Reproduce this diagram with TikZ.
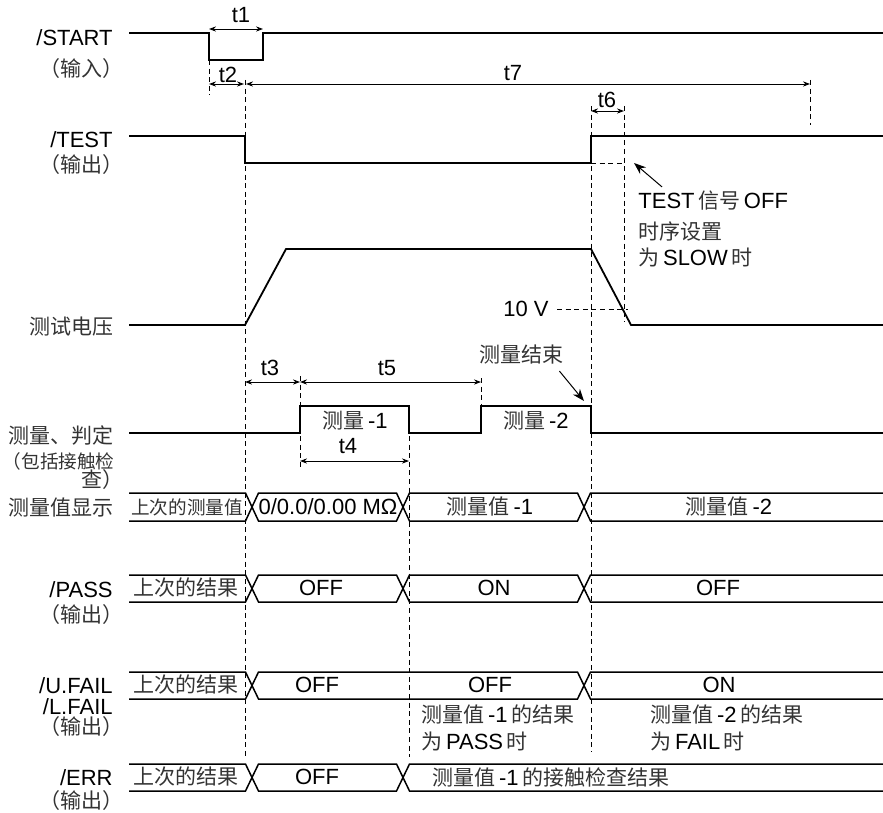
\documentclass[tikz,border=0pt]{standalone}
\usepackage{fontspec}
\setmainfont{Liberation Sans}
\newfontfamily\zhfont{Noto Sans CJK SC}
\newcommand{\zh}[1]{{\zhfont\fontsize{10.5}{14}\selectfont\color{black!80}#1}}
\newcommand{\zhs}[1]{{\zhfont\fontsize{9.3}{12}\selectfont\color{black!80}#1}}
\usetikzlibrary{arrows.meta}

\begin{document}
\begin{tikzpicture}[x=0.5pt,y=-0.5pt,>=Stealth,
 sig/.style={line width=0.9pt},
 bus/.style={line width=0.75pt},
 guide/.style={line width=0.45pt,dash pattern=on 2.5pt off 1.8pt},
 dim/.style={<->,line width=0.45pt,>={Stealth[length=3.5pt,width=2.6pt]}},
 callout/.style={->,line width=0.5pt,>={Stealth[length=6pt,width=4.5pt]}},
 every node/.style={inner sep=0pt,font=\fontsize{11}{14}\selectfont},
 lbl/.style={anchor=east}]
\useasboundingbox (0,0) rectangle (883,813);

% signal names
\node[lbl] (start) at (113,38) {/START};
\node[lbl] (startio) at (124,69) {\zh{（输入）}};
\node[lbl] (test) at (113,140) {/TEST};
\node[lbl] (testio) at (124,165) {\zh{（输出）}};
\node[lbl] (volt) at (114,327) {\zh{测试电压}};
\node[lbl] (meas) at (114,436) {\zh{测量、判定}};
\node[lbl] (meascont) at (115,461) {\zhs{（包括接触检}};
\node[lbl] (measend) at (124,480) {\zh{查）}};
\node[lbl] (disp) at (114,508) {\zh{测量值显示}};
\node[lbl] (pass) at (113,590) {/PASS};
\node[lbl] (passio) at (124,615) {\zh{（输出）}};
\node[lbl] (ufail) at (113,686) {/U.FAIL};
\node[lbl] (lfail) at (113,707) {/L.FAIL};
\node[lbl] (failio) at (124,727) {\zh{（输出）}};
\node[lbl] (err) at (113,778) {/ERR};
\node[lbl] (errio) at (124,801) {\zh{（输出）}};

% waveforms
\draw[sig] (129,33) -- (209,33) -- (209,60) -- (263,60) -- (263,33) -- (883,33);
\draw[sig] (129,136) -- (245,136) -- (245,163) -- (591,163) -- (591,136) -- (883,136);
\draw[sig] (129,325) -- (245,325) -- (286,249) -- (591,249) -- (631,325) -- (883,325);
\draw[sig] (129,433) -- (300,433) -- (300,406) -- (409,406) -- (409,433)
 -- (481,433) -- (481,406) -- (591,406) -- (591,433) -- (883,433);
\node (meas1) at (355,421) {\zh{测量}\,-1};
\node (meas2) at (536,421) {\zh{测量}\,-2};

% buses
\foreach \hi/\lo in {493/521,575/602}{
 \draw[bus] (129,\hi) -- (245.5,\hi) -- (258.5,\lo) -- (396.5,\lo) -- (409.5,\hi)
  -- (577.5,\hi) -- (590.5,\lo) -- (883,\lo);
 \draw[bus] (129,\lo) -- (245.5,\lo) -- (258.5,\hi) -- (396.5,\hi) -- (409.5,\lo)
  -- (577.5,\lo) -- (590.5,\hi) -- (883,\hi);
}
\draw[bus] (129,672) -- (245.5,672) -- (258.5,699) -- (577.5,699) -- (590.5,672) -- (883,672);
\draw[bus] (129,699) -- (245.5,699) -- (258.5,672) -- (577.5,672) -- (590.5,699) -- (883,699);
\draw[bus] (129,764) -- (245.5,764) -- (258.5,791) -- (396.5,791) -- (409.5,764) -- (883,764);
\draw[bus] (129,791) -- (245.5,791) -- (258.5,764) -- (396.5,764) -- (409.5,791) -- (883,791);

\node (dispold) at (187,507) {\zhs{上次的测量值}};
\node (dispzero) at (328,507) {0/0.0/0.00 MΩ};
\node (dispone) at (490,507) {\zh{测量值}\,-1};
\node (disptwo) at (729,507) {\zh{测量值}\,-2};
\node (passold) at (186,588) {\zh{上次的结果}};
\node (passa) at (321,588) {OFF};
\node (passb) at (494,588) {ON};
\node (passc) at (718,588) {OFF};
\node (failold) at (186,685) {\zh{上次的结果}};
\node (faila) at (317,685) {OFF};
\node (failb) at (490,685) {OFF};
\node (failc) at (719,685) {ON};
\node (errold) at (186,777) {\zh{上次的结果}};
\node (erra) at (317,777) {OFF};
\node[anchor=west] (errb) at (432,777) {\zh{测量值}\,-1\,\zh{的接触检查结果}};

\node[anchor=west] (passnote) at (421,714) {\zh{测量值}\,-1\,\zh{的结果}};
\node[anchor=west] (passnoteb) at (421,741) {\zh{为}\,PASS\,\zh{时}};
\node[anchor=west] (failnote) at (650,714) {\zh{测量值}\,-2\,\zh{的结果}};
\node[anchor=west] (failnoteb) at (650,741) {\zh{为}\,FAIL\,\zh{时}};

% timing guides
\draw[guide] (209,60) -- (209,95);
\draw[guide] (245,80) -- (245,757);
\draw[guide] (810,80) -- (810,125);
\draw[guide] (591,106) -- (591,752);
\draw[guide] (624,106) -- (624,322);
\draw[guide] (591,163) -- (624,163);
\draw[guide] (557,309) -- (628,309);
\draw[guide] (300,376) -- (300,467);
\draw[guide] (481,378) -- (481,406);
\draw[guide] (409,436) -- (409,757);

% intervals
\draw[dim] (209,29) -- (263,29);
\draw[dim] (209,84) -- (244,84);
\draw[dim] (246,84) -- (810,84);
\draw[dim] (591,111) -- (624,111);
\draw[dim] (245,382) -- (300,382);
\draw[dim] (300,382) -- (481,382);
\draw[dim] (300,461) -- (409,461);
\node (t1) at (241,15) {t1};
\node (t2) at (228,75) {t2};
\node (t7) at (513,73) {t7};
\node (t6) at (607,100) {t6};
\node (t3) at (270,368) {t3};
\node (t5) at (387,368) {t5};
\node (t4) at (348,446) {t4};

% notes
\node[anchor=east] (tenv) at (549,309) {10 V};
\node (endnote) at (521,355) {\zh{测量结束}};
\draw[callout] ([xshift=-2pt,yshift=-3pt]endnote.south east) -- (584,401);
\node[anchor=west] (offnote) at (638,201) {TEST\,\zh{信号}\,OFF};
\node[anchor=west] (offnoteb) at (638,231) {\zh{时序设置}};
\node[anchor=west] (offnotec) at (638,257) {\zh{为}\,SLOW\,\zh{时}};
\draw[callout] ([xshift=12pt,yshift=2pt]offnote.north west) -- (634,163);
\end{tikzpicture}
\end{document}
